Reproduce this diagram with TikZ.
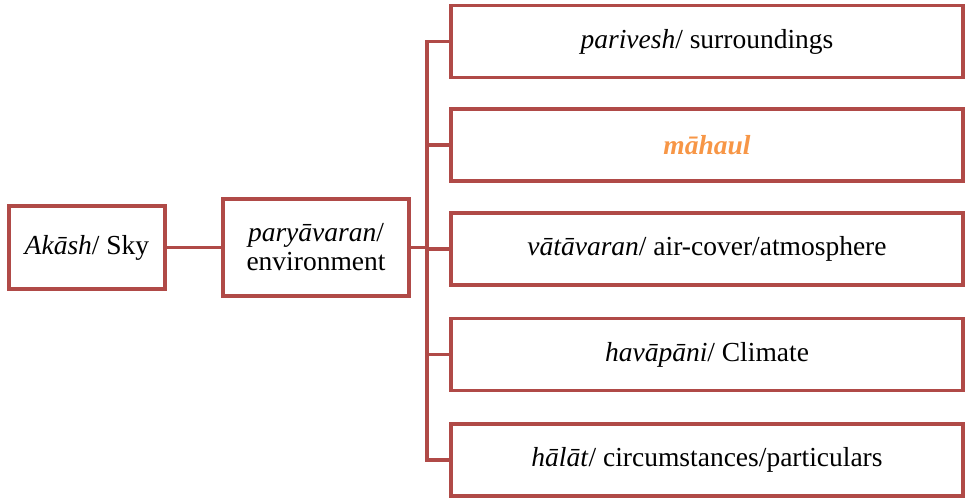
\documentclass[tikz,border=0pt]{standalone}
\usepackage{fontspec}
\setmainfont{Liberation Serif}
\usetikzlibrary{positioning}
\definecolor{boxred}{HTML}{B04A47}
\definecolor{mahaulorange}{HTML}{F79646}

\begin{document}
\begin{tikzpicture}[x=1pt,y=-1pt,
    termbox/.style={draw=boxred,line width=3.6pt,align=center,inner sep=2pt,
      font=\fontsize{27.5}{31}\selectfont},
    rowbox/.style={termbox,minimum width=512pt,minimum height=72pt},
    link/.style={draw=boxred,line width=3.6pt}]
    \useasboundingbox (0,0) rectangle (968,501);

    \node[termbox,minimum width=156pt,minimum height=83pt] (sky) at (87,247.5) {\textit{Akāsh}/ Sky};
    \node[termbox,minimum width=186pt,minimum height=97pt] (env) at (316,247.5) {\textit{paryāvaran}/\\[-2pt]environment};

    \node[rowbox] (parivesh) at (707,41.5) {\textit{parivesh}/ surroundings};
    \node[rowbox] (mahaul) at (707,145) {\textcolor{mahaulorange}{\textbf{\textit{māhaul}}}};
    \node[rowbox] (vatavaran) at (707,249) {\textit{vātāvaran}/ air-cover/atmosphere};
    \node[rowbox] (havapani) at (707,354.5) {\textit{havāpāni}/ Climate};
    \node[rowbox] (halat) at (707,460) {\textit{hālāt}/ circumstances/particulars};

    %\draw[help lines] (0,0) grid (968,501);
    \coordinate (bus) at (427,249);
    \draw[link] (sky) -- (env);
    \draw[link] (env.east) -- (env.east -| bus);
    \draw[link] (parivesh.west) -| (bus) |- (halat.west);
    \draw[link] (mahaul.west) -- (mahaul.west -| bus);
    \draw[link] (vatavaran.west) -- (vatavaran.west -| bus);
    \draw[link] (havapani.west) -- (havapani.west -| bus);
\end{tikzpicture}
\end{document}
